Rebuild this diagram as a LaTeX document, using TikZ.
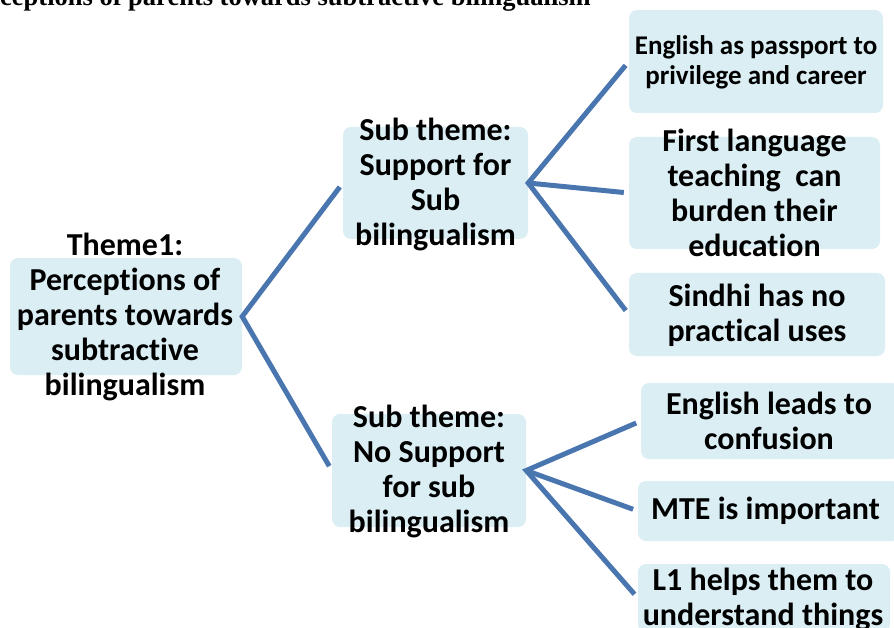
\documentclass[tikz,border=0pt]{standalone}
\usepackage{fontspec}
\setmainfont{Carlito}[Ligatures=NoCommon]
\newfontfamily\capfont{Liberation Serif}
\usetikzlibrary{positioning}
\definecolor{boxblue}{HTML}{DAEEF3}
\definecolor{linkblue}{HTML}{4A76B0}

\begin{document}
\begin{tikzpicture}[x=1pt, y=-1pt,
    box/.style={fill=boxblue, rounded corners=8pt, inner sep=0pt},
    txt/.style={align=center, inner sep=0pt, font=\bfseries\fontsize{32}{35}\selectfont},
    link/.style={draw=linkblue, line width=5pt, shorten <=5pt}]
  \useasboundingbox (0,0) rectangle (894,628);
  \clip (0,0) rectangle (894,628);
  % caption, cut by the page edge
  \node[anchor=base east, inner sep=0pt, font=\capfont\bfseries\fontsize{26.5}{30}\selectfont] (caption) at (591,6) {ceptions of parents towards subtractive bilingualism};
  % boxes
  \node[box, minimum width=232pt, minimum height=117pt] (root) at (126,316.5) {};
  \node[box, minimum width=185pt, minimum height=112pt] (sub1) at (435.5,183) {};
  \node[box, minimum width=194pt, minimum height=113pt] (sub2) at (429,470.5) {};
  \node[box, minimum width=254pt, minimum height=103pt] (leaf1) at (756,61.5) {};
  \node[box, minimum width=251pt, minimum height=112pt] (leaf2) at (754.5,193) {};
  \node[box, minimum width=256pt, minimum height=83pt] (leaf3) at (757,314.5) {};
  \node[box, minimum width=259pt, minimum height=76pt] (leaf4) at (770.5,421) {};
  \node[box, minimum width=262pt, minimum height=60pt] (leaf5) at (769,511) {};
  \node[box, minimum width=252pt, minimum height=68pt] (leaf6) at (764,598) {};
  % connectors
  \draw[link, shorten >=5pt] (sub1.west) -- (root.east) -- (sub2.west);
  \draw[link, shorten >=5pt] (leaf1.west) -- (sub1.east) -- (leaf3.west);
  \draw[link] (leaf2.west) -- (sub1.east);
  \draw[link, shorten >=5pt] (leaf4.west) -- (sub2.east) -- (leaf6.west);
  \draw[link] (leaf5.west) -- (sub2.east);
  % texts
  \node[txt] (root text) at (125,317) {Theme1:\\Perceptions of\\parents towards\\subtractive\\bilingualism};
  \node[txt] (sub1 text) at (435.5,184) {Sub theme:\\Support for\\Sub\\bilingualism};
  \node[txt] (sub2 text) at (429,471) {Sub theme:\\No Support\\for sub\\bilingualism};
  \node[txt, font=\bfseries\fontsize{27}{30}\selectfont] (leaf1 text) at (756,62) {English as passport to\\privilege and career};
  \node[txt] (leaf2 text) at (754.5,193) {First language\\teaching~ can\\burden their\\education};
  \node[txt] (leaf3 text) at (757,315) {Sindhi has no\\practical uses};
  \node[txt] (leaf4 text) at (769,421) {English leads to\\confusion};
  \node[txt] (leaf5 text) at (765.5,511) {MTE is important};
  \node[txt] (leaf6 text) at (763,599) {L1 helps them to\\understand things};
\end{tikzpicture}
\end{document}
